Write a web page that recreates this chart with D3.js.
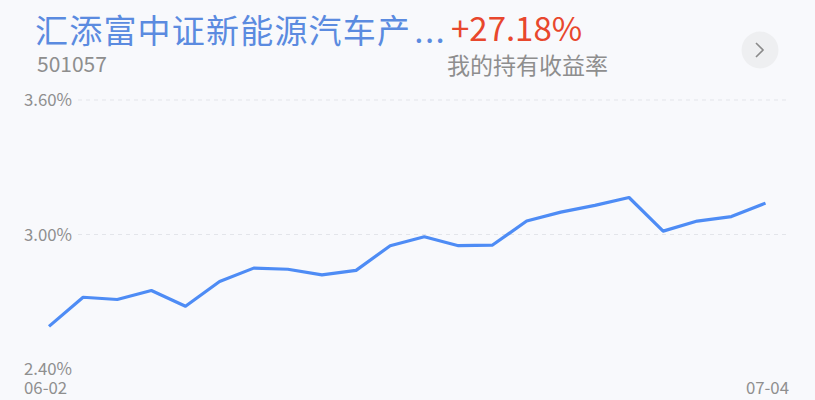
<!DOCTYPE html>
<html>
<head>
<meta charset="utf-8">
<style>
  body { margin: 0; background: #f8f9fc; }
  svg { display: block; font-family: "Noto Sans CJK SC", "Noto Sans", sans-serif; }
  .tick-label { font-size: 16.8px; fill: #8f8f8f; }
  .grid { stroke: #e3e5ea; stroke-dasharray: 4 4; stroke-width: 1; }
</style>
</head>
<body>
<script src="https://cdn.jsdelivr.net/npm/d3@7"></script>
<script>
// data
const dates = ["06-02", "06-06", "06-07", "06-08", "06-09", "06-10", "06-13", "06-14",
  "06-15", "06-16", "06-17", "06-20", "06-21", "06-22", "06-23", "06-24", "06-27",
  "06-28", "06-29", "06-30", "07-01", "07-04"];
const values = [2.59, 2.72, 2.71, 2.75, 2.68, 2.79, 2.85, 2.845, 2.82, 2.84, 2.95, 2.99,
  2.95, 2.953, 3.06, 3.10, 3.13, 3.165, 3.015, 3.06, 3.08, 3.14];
const yTicks = [2.40, 3.00, 3.60];
const xLabels = ["06-02", "07-04"];

const fundName = "汇添富中证新能源汽车产";
const fundCode = "501057";
const holdReturn = "+27.18%";
const holdLabel = "我的持有收益率";

const W = 815, H = 400;

const svg = d3.select("body").append("svg")
  .attr("width", W)
  .attr("height", H);

svg.append("rect").attr("width", W).attr("height", H).attr("fill", "#f8f9fc");

// scales
const x = d3.scalePoint().domain(dates).range([49, 765.5]);
const y = d3.scaleLinear().domain([2.40, 3.60]).range([369, 100]);

// header
const title = svg.append("text")
  .attr("x", 35).attr("y", 43)
  .attr("font-size", 33)
  .attr("fill", "#5b8be0");
title.append("tspan").attr("letter-spacing", 1.2).text(fundName);
title.append("tspan").attr("dx", 3).attr("letter-spacing", 1.5).text("...");

svg.append("text")
  .attr("x", 37).attr("y", 72)
  .attr("font-size", 21)
  .attr("fill", "#8e8e8e")
  .text(fundCode);

svg.append("text")
  .attr("x", 451).attr("y", 41)
  .attr("font-size", 33)
  .attr("fill", "#e8472d")
  .text(holdReturn);

svg.append("text")
  .attr("x", 447).attr("y", 74)
  .attr("font-size", 23)
  .attr("fill", "#8e8e8e")
  .text(holdLabel);

// round arrow button
svg.append("circle")
  .attr("cx", 760).attr("cy", 50).attr("r", 18.5)
  .attr("fill", "#eeeff1");
svg.append("path")
  .attr("d", "M756,43 L763,50 L756,57")
  .attr("fill", "none")
  .attr("stroke", "#8a8a8a")
  .attr("stroke-width", 1.6);

// grid lines (no line at the bottom value)
svg.append("g").selectAll("line")
  .data(yTicks.filter(d => d > 2.40))
  .enter().append("line")
  .attr("class", "grid")
  .attr("x1", 78).attr("x2", 790)
  .attr("y1", d => y(d)).attr("y2", d => y(d));

// y labels
svg.append("g").selectAll("text")
  .data(yTicks)
  .enter().append("text")
  .attr("class", "tick-label")
  .attr("x", 24)
  .attr("y", d => y(d))
  .attr("dy", "0.36em")
  .text(d => d.toFixed(2) + "%");

// x labels: first and last date only
svg.append("g").selectAll("text")
  .data(xLabels)
  .enter().append("text")
  .attr("class", "tick-label")
  .attr("x", (d, i) => i === 0 ? 24 : 789)
  .attr("y", 394)
  .attr("text-anchor", (d, i) => i === 0 ? "start" : "end")
  .text(d => d);

// the line
const line = d3.line()
  .x((d, i) => x(dates[i]))
  .y(d => y(d));

svg.append("path")
  .datum(values)
  .attr("fill", "none")
  .attr("stroke", "#4e8cf5")
  .attr("stroke-width", 3.2)
  .attr("stroke-linejoin", "round")
  .attr("d", line);
</script>
</body>
</html>
